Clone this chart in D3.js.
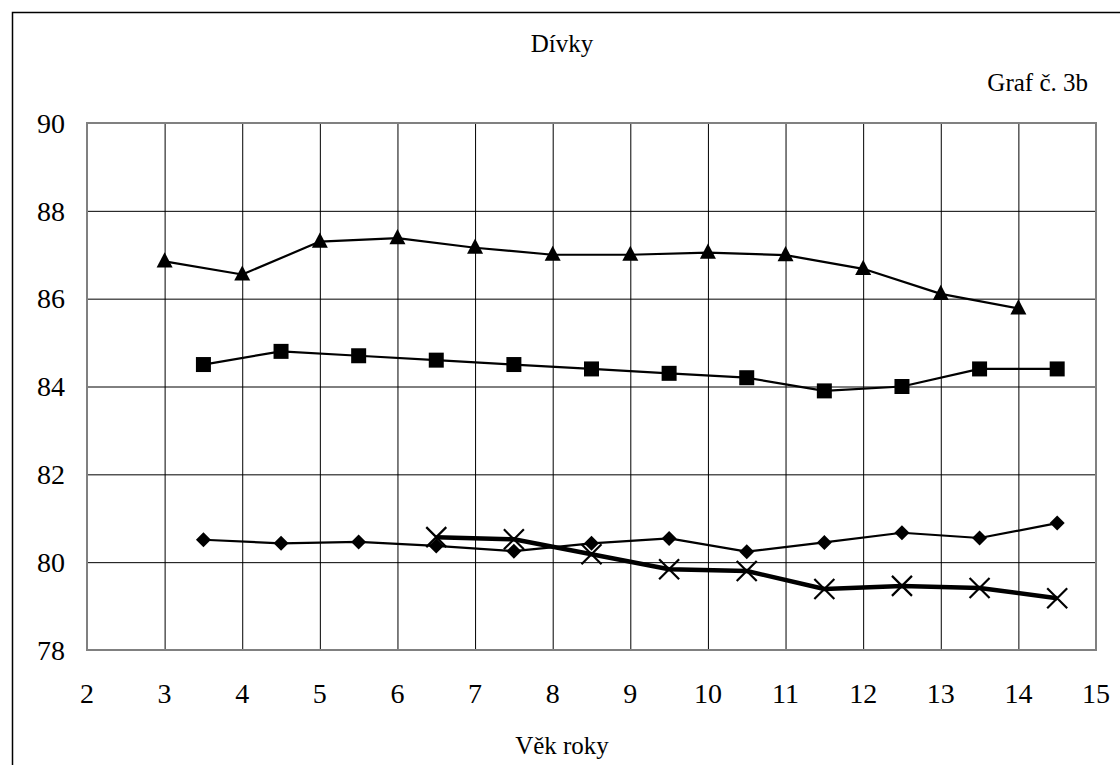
<!DOCTYPE html>
<html>
<head>
<meta charset="utf-8">
<script src="https://cdn.jsdelivr.net/npm/d3@7"></script>
<style>
  body { margin: 0; background: #fff; }
  svg text { font-family: "Liberation Serif", "Tinos", "Times New Roman", Times, "DejaVu Serif", serif; }
</style>
</head>
<body>
<script>
// hodnoty
var xTicks = [2, 3, 4, 5, 6, 7, 8, 9, 10, 11, 12, 13, 14, 15];
var yTicks = [78, 80, 82, 84, 86, 88, 90];

var triX = [3, 4, 5, 6, 7, 8, 9, 10, 11, 12, 13, 14];
var triY = [86.85, 86.55, 87.3, 87.38, 87.16, 87.0, 87.0, 87.05, 86.99, 86.68, 86.11, 85.78];

var halfX = [3.5, 4.5, 5.5, 6.5, 7.5, 8.5, 9.5, 10.5, 11.5, 12.5, 13.5, 14.5];
var sqY = [84.5, 84.8, 84.7, 84.6, 84.5, 84.4, 84.3, 84.2, 83.9, 84.0, 84.4, 84.4];
var diaY = [80.51, 80.43, 80.46, 80.37, 80.25, 80.43, 80.54, 80.24, 80.45, 80.67, 80.55, 80.89];

var crossX = [6.5, 7.5, 8.5, 9.5, 10.5, 11.5, 12.5, 13.5, 14.5];
var crossY = [80.57, 80.52, 80.18, 79.84, 79.8, 79.39, 79.46, 79.41, 79.18];

graf();

function graf()
{
var W = 1120, H = 765;
var pLeft = 87, pRight = 1096, pTop = 123, pBottom = 650;

var svg = d3.select("body").append("svg")
    .attr("width", W)
    .attr("height", H);

// vnější rámeček (jen levá a horní hrana je vidět)
svg.append("path")
    .attr("d", "M12.5," + H + "V12.5H" + W)
    .attr("fill", "none")
    .attr("stroke", "#000")
    .attr("stroke-width", 1.5);

var x = d3.scaleLinear().domain([2, 15]).range([pLeft, pRight]);
var y = d3.scaleLinear().domain([78, 90]).range([pBottom, pTop]);

// mřížka
svg.append("g")
    .attr("transform", "translate(0," + pBottom + ")")
    .call(d3.axisBottom(x).tickValues(xTicks).tickSize(-(pBottom - pTop)).tickFormat(""))
    .call(function (g) { g.select(".domain").remove(); })
    .selectAll("line").attr("stroke", "#000").attr("stroke-width", 1);

svg.append("g")
    .attr("transform", "translate(" + pLeft + ",0)")
    .call(d3.axisLeft(y).tickValues(yTicks).tickSize(-(pRight - pLeft)).tickFormat(""))
    .call(function (g) { g.select(".domain").remove(); })
    .selectAll("line").attr("stroke", "#000").attr("stroke-width", 1);

svg.append("rect")
    .attr("x", pLeft).attr("y", pTop)
    .attr("width", pRight - pLeft).attr("height", pBottom - pTop)
    .attr("fill", "none")
    .attr("stroke", "#808080")
    .attr("stroke-width", 2);

// popisky os
svg.append("g").selectAll("text")
    .data(yTicks).enter().append("text")
    .attr("x", 65)
    .attr("y", function (d) { return y(d); })
    .attr("dy", "0.35em")
    .attr("text-anchor", "end")
    .attr("font-size", 28)
    .text(function (d) { return d; });

svg.append("g").selectAll("text")
    .data(xTicks).enter().append("text")
    .attr("x", function (d) { return x(d); })
    .attr("y", 693)
    .attr("dy", "0.35em")
    .attr("text-anchor", "middle")
    .attr("font-size", 28)
    .text(function (d) { return d; });

svg.append("text").attr("x", 562).attr("y", 43).attr("dy", "0.35em")
    .attr("text-anchor", "middle").attr("font-size", 25).text("Dívky");
svg.append("text").attr("x", 1088).attr("y", 82).attr("dy", "0.35em")
    .attr("text-anchor", "end").attr("font-size", 25).text("Graf č. 3b");
svg.append("text").attr("x", 562).attr("y", 745).attr("dy", "0.35em")
    .attr("text-anchor", "middle").attr("font-size", 25).text("Věk roky");

function pairs(xs, ys) {
    return xs.map(function (v, i) { return [v, ys[i]]; });
}

var line = d3.line()
    .x(function (d) { return x(d[0]); })
    .y(function (d) { return y(d[1]); });

function series(data, width, symbol, size, filled) {
    svg.append("path")
        .datum(data)
        .attr("d", line)
        .attr("fill", "none")
        .attr("stroke", "#000")
        .attr("stroke-width", width)
        .attr("stroke-linejoin", "round");
    svg.append("g").selectAll("path")
        .data(data).enter().append("path")
        .attr("transform", function (d) { return "translate(" + x(d[0]) + "," + y(d[1]) + ")"; })
        .attr("d", d3.symbol().type(symbol).size(size))
        .attr("fill", filled ? "#000" : "none")
        .attr("stroke", "#000")
        .attr("stroke-width", filled ? 0 : 2.2);
}

var diamond = {
    draw: function (ctx, size) {
        var r = Math.sqrt(size) / 2;
        ctx.moveTo(0, -r); ctx.lineTo(r, 0); ctx.lineTo(0, r); ctx.lineTo(-r, 0); ctx.closePath();
    }
};
var cross = {
    draw: function (ctx, size) {
        var r = Math.sqrt(size) / 2;
        ctx.moveTo(-r, -r); ctx.lineTo(r, r);
        ctx.moveTo(-r, r); ctx.lineTo(r, -r);
    }
};
var triangle = {
    draw: function (ctx, size) {
        var s = Math.sqrt(size);
        var h = s * 0.95;
        ctx.moveTo(0, -h * 0.6); ctx.lineTo(s / 2, h * 0.4); ctx.lineTo(-s / 2, h * 0.4); ctx.closePath();
    }
};

series(pairs(triX, triY), 2.2, triangle, 16 * 16, true);
series(pairs(halfX, sqY), 2.2, d3.symbolSquare, 15 * 15, true);
series(pairs(halfX, diaY), 2.2, diamond, 15 * 15, true);
series(pairs(crossX, crossY), 4.5, cross, 20 * 20, false);
}
</script>
</body>
</html>
